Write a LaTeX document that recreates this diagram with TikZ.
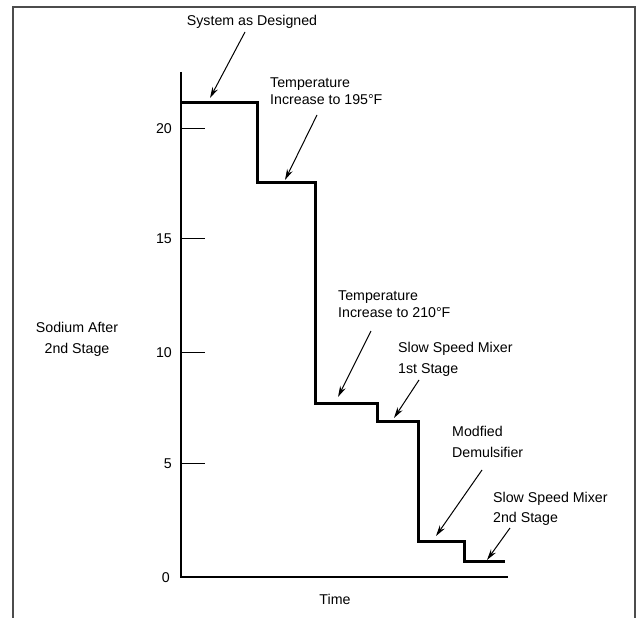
\documentclass[tikz,border=0pt]{standalone}
\usepackage{fontspec}
\setmainfont{Liberation Sans}
\usetikzlibrary{arrows.meta}
\begin{document}
\begin{tikzpicture}[x=1pt,y=-1pt,
  lbl/.style={font=\fontsize{14.2}{17}\selectfont, inner sep=0pt, align=left},
  lblwide/.style={font=\fontsize{14.2}{21}\selectfont, inner sep=0pt, align=left},
  ptr/.style={line width=1pt, -{Stealth[length=11pt,width=6pt]}},
  stepline/.style={line width=3pt, line join=miter},
  axisline/.style={line width=1.2pt},
  tickline/.style={line width=0.8pt},
  framel/.style={line width=1.6pt, draw=black!70}]
\useasboundingbox (0,0) rectangle (638,618);
% frame
\draw[framel] (13,618) -- (13,7) -- (635,7) -- (635,618);
% axes
\coordinate (ytop) at (181,72);
\coordinate (orig) at (181,577);
\coordinate (xend) at (508,577);
\draw[axisline] (ytop) -- (orig) -- (xend);
% ticks and labels
\foreach \v/\yy in {20/128,15/238,10/352,5/463}{
  \draw[tickline] (181,\yy) -- (205,\yy);
  \node[lbl, anchor=base east] (t\v) at (172,\yy+5) {\v};
}
\node[lbl, anchor=base east] (t0) at (170,582) {0};
% step curve
\draw[stepline] (181,103) -- (257,103) -- (257,182) -- (315,182) -- (315,403)
  -- (377,403) -- (377,421) -- (418,421) -- (418,541) -- (464,541)
  -- (464,561) -- (505,561);
% axis titles
\node[lblwide, align=center, anchor=north] (sod) at (77,322) {Sodium After\\2nd Stage};
\node[lbl, anchor=base] (time) at (335,604) {Time};
% annotations
\node[lbl, anchor=base] (sys) at (252,26) {System as Designed};
\node[lbl, anchor=north west] (t195) at (270,78) {Temperature\\Increase to 195°F};
\node[lbl, anchor=north west] (t210) at (338,291) {Temperature\\Increase to 210°F};
\node[lblwide, anchor=north west] (ssm1) at (398,342) {Slow Speed Mixer\\1st Stage};
\node[lblwide, anchor=north west] (mod) at (452,426) {Modfied\\Demulsifier};
\node[lbl, font=\fontsize{14.2}{20}\selectfont, anchor=north west] (ssm2) at (493,492) {Slow Speed Mixer\\2nd Stage};
% arrows
\coordinate (a1s) at (245,32);  \coordinate (a1e) at (210,98);
\coordinate (a2s) at (317,115); \coordinate (a2e) at (285,180);
\coordinate (a3s) at (371,331); \coordinate (a3e) at (338,397);
\coordinate (a4s) at (419,380); \coordinate (a4e) at (394,418);
\coordinate (a5s) at (482,470); \coordinate (a5e) at (436,536);
\coordinate (a6s) at (510,528); \coordinate (a6e) at (487,560);
\foreach \i in {1,...,6}{\draw[ptr] (a\i s) -- (a\i e);}
\end{tikzpicture}
\end{document}
